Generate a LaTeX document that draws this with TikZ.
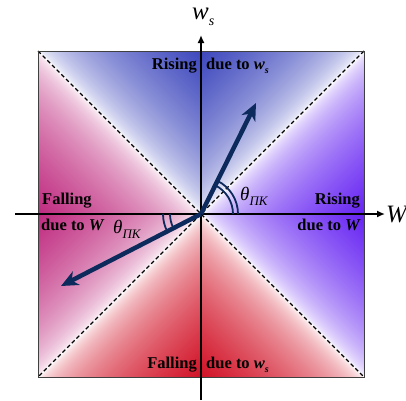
\documentclass[tikz,border=0pt]{standalone}
\usepackage{fontspec}
\setmainfont{Liberation Serif}
\usetikzlibrary{arrows.meta}

\pgfdeclarefunctionalshading{quadshade}{\pgfpointorigin}{\pgfpoint{100bp}{100bp}}{}{
 50 sub 25 div exch 50 sub 25 div exch
 2 copy abs exch abs
 2 copy gt
 { sub 0.55 exp exch 0 gt
   { dup 0.76 mul 1 exch sub exch dup 0.72 mul 1 exch sub exch 0.26 mul 1 exch sub }
   { dup 0.18 mul 1 exch sub exch dup 0.93 mul 1 exch sub exch 0.85 mul 1 exch sub }
   ifelse }
 { exch sub 0.55 exp exch pop 1 index 0 gt
   { dup 0.60 mul 1 exch sub exch dup 0.86 mul 1 exch sub exch 0.05 mul 1 exch sub }
   { dup 0.25 mul 1 exch sub exch dup 0.83 mul 1 exch sub exch 0.50 mul 1 exch sub }
   ifelse }
 ifelse
 4 -1 roll pop
}

\definecolor{navy}{RGB}{12,42,92}

\tikzset{
  border/.style={draw=black!75, line width=0.9pt},
  diag/.style={draw=black, line width=1.1pt, dash pattern=on 4pt off 2.6pt},
  axis/.style={draw=black, line width=2pt, -{Latex[length=8pt,width=7pt]}},
  vec/.style={draw=navy, line width=4.5pt, -{Stealth[length=17pt,width=15pt,inset=5pt]}},
  arcst/.style={draw=navy, line width=1.8pt},
  lab/.style={inner sep=0pt, font=\fontsize{16.5}{16.5}\selectfont\bfseries},
  axlab/.style={inner sep=0pt, font=\fontsize{25}{25}\selectfont\itshape},
  thlab/.style={inner sep=0pt, font=\fontsize{19}{19}\selectfont\itshape},
}

\newcommand{\wsb}{\textit{w}\raisebox{-4pt}{\fontsize{10}{10}\selectfont\textit{s}}}

\begin{document}
\begin{tikzpicture}[x=1pt,y=1pt]
\useasboundingbox (0,0) rectangle (406,400);
\coordinate (O) at (201,186);
\coordinate (TL) at (38,349);
\coordinate (TR) at (364,349);
\coordinate (BL) at (38,23);
\coordinate (BR) at (364,23);

% shaded square
\shade[shading=quadshade] (BL) rectangle (TR);
\draw[diag] (TL) -- (BR);
\draw[diag] (TR) -- (BL);
\draw[border] (BL) rectangle (TR);

% axes
\coordinate (ybot) at (201,0);
\coordinate (ytop) at (201,365);
\coordinate (xl) at (15,186);
\coordinate (xr) at (385,186);
\draw[axis] (ybot) -- (ytop);
\draw[axis] (xl) -- (xr);
\node[axlab, anchor=base west] (W) at (386,178) {W};
\node[axlab, anchor=base west] (ws) at (192,380) {w\raisebox{-6pt}{\fontsize{14}{14}\selectfont s}};

% vectors
\coordinate (A1) at (256,297);
\coordinate (A2) at (61,114);
\draw[vec] (O) -- (A1);
\draw[vec] (O) -- (A2);

% angle arcs
\draw[arcst] ([shift={(32,0)}]O) arc[start angle=0, end angle=63.6, radius=32];
\draw[arcst] ([shift={(37,0)}]O) arc[start angle=0, end angle=63.6, radius=37];
\draw[arcst] ([shift={(-31,0)}]O) arc[start angle=180, end angle=207.2, radius=31];
\draw[arcst] ([shift={(-38,0)}]O) arc[start angle=180, end angle=207.2, radius=38];

\node[thlab, anchor=base west] (th1) at (240,200) {θ\raisebox{-5pt}{\fontsize{13}{13}\selectfont ПК}};
\node[thlab, anchor=base west] (th2) at (113,167) {θ\raisebox{-5pt}{\fontsize{13}{13}\selectfont ПК}};

% region labels
\node[lab, anchor=base east] (r1) at (197,331) {Rising};
\node[lab, anchor=base west] (r2) at (206,331) {due to \wsb};
\node[lab, anchor=base east] (f1) at (197,32) {Falling};
\node[lab, anchor=base west] (f2) at (206,32) {due to \wsb};
\node[lab, anchor=base west] (f3) at (42,196) {Falling};
\node[lab, anchor=base west] (f4) at (41,170) {due to \textit{W}};
\node[lab, anchor=base east] (r3) at (360,196) {Rising};
\node[lab, anchor=base east] (r4) at (361,170) {due to \textit{W}};
\end{tikzpicture}
\end{document}
